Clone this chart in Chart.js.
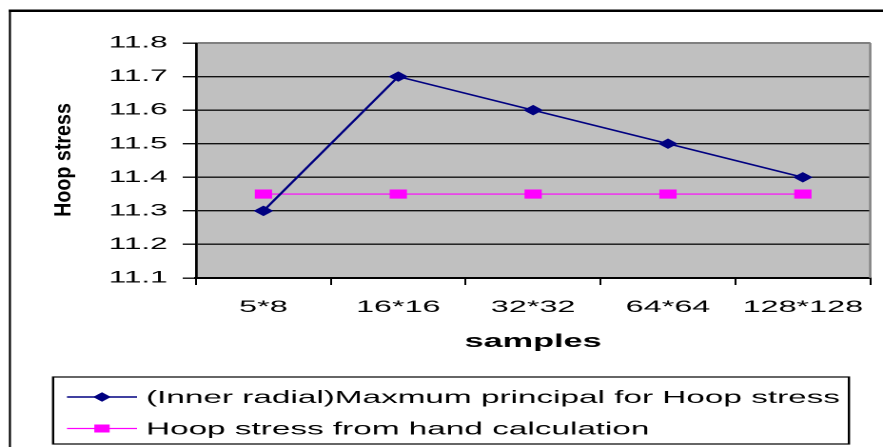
<!DOCTYPE html>
<html>
<head>
<meta charset="utf-8">
<script src="https://cdn.jsdelivr.net/npm/chart.js@4/dist/chart.umd.min.js"></script>
<style>
    html, body { margin: 0; padding: 0; background: #fff; overflow: hidden; }
    /* the original picture is stretched sideways, so the chart is drawn narrow and widened */
    #wrap { width: 464px; height: 447px; transform: scaleX(1.903); transform-origin: 0 0; }
    canvas { display: block; }
</style>
</head>
<body>
<div id="wrap"><canvas id="hoopChart" width="464" height="447"></canvas></div>
<script>
const categories = ['5*8', '16*16', '32*32', '64*64', '128*128'];
const maxPrincipal = [11.3, 11.7, 11.6, 11.5, 11.4];
const handCalc = [11.35, 11.35, 11.35, 11.35, 11.35];
const seriesNames = [
    '(Inner radial)Maxmum principal for Hoop stress',
    'Hoop stress from hand calculation'
];
const yMin = 11.1;
const yMax = 11.8;
const yStep = 0.1;
const xTitle = 'samples';
const yTitle = 'Hoop stress';

const FONT = '"Liberation Sans", Arial, sans-serif';
Chart.defaults.font.family = FONT;
Chart.defaults.color = '#000';

// grey plot area, outer frame
const framePlugin = {
    id: 'frame',
    beforeDraw(chart) {
        const { ctx, chartArea: a } = chart;
        ctx.save();
        ctx.strokeStyle = '#000';
        ctx.lineWidth = 2.5;
        ctx.beginPath();
        ctx.moveTo(4.6, 10.7);
        ctx.lineTo(chart.width + 5, 10.7);
        ctx.stroke();
        ctx.lineWidth = 1.1;
        ctx.beginPath();
        ctx.moveTo(5.2, 9.5);
        ctx.lineTo(5.2, chart.height + 5);
        ctx.stroke();

        ctx.fillStyle = '#c0c0c0';
        ctx.fillRect(a.left, a.top, a.right - a.left, a.bottom - a.top);
        ctx.restore();
    },
    beforeDatasetsDraw(chart) {
        const { ctx, chartArea: a } = chart;
        ctx.save();
        ctx.strokeStyle = '#808080';
        ctx.lineWidth = 2;
        ctx.beginPath();
        ctx.moveTo(a.left + 1, a.top);
        ctx.lineTo(a.right, a.top);
        ctx.stroke();
        ctx.lineWidth = 1.2;
        ctx.beginPath();
        ctx.moveTo(a.right, a.top);
        ctx.lineTo(a.right, a.bottom);
        ctx.stroke();
        ctx.restore();
    }
};

// rotated, condensed y title
const yTitlePlugin = {
    id: 'yTitle',
    afterDraw(chart) {
        const ctx = chart.ctx;
        ctx.save();
        ctx.translate(33.6, 160);
        ctx.rotate(-Math.PI / 2);
        ctx.scale(1, 0.63);
        ctx.font = 'bold 19.7px ' + FONT;
        ctx.fillStyle = '#000';
        ctx.textAlign = 'center';
        ctx.textBaseline = 'middle';
        ctx.fillText(yTitle, 0, 0);
        ctx.restore();
    }
};

// boxed legend below the chart, line + marker + label
const legendPlugin = {
    id: 'boxLegend',
    afterDraw(chart) {
        const ctx = chart.ctx;
        const box = { left: 27.9, top: 377, right: 446.1, bottom: 444 };
        const rows = [397, 428.5];
        ctx.save();
        ctx.strokeStyle = '#000';
        ctx.lineWidth = 1.2;
        ctx.strokeRect(box.left, box.top, box.right - box.left, box.bottom - box.top);

        chart.data.datasets.forEach((ds, i) => {
            const y = rows[i];
            ctx.strokeStyle = ds.borderColor;
            ctx.lineWidth = ds.borderWidth;
            ctx.beginPath();
            ctx.moveTo(35.2, y);
            ctx.lineTo(72, y);
            ctx.stroke();

            ctx.fillStyle = ds.pointBackgroundColor;
            ctx.strokeStyle = ds.pointBorderColor;
            ctx.lineWidth = 1;
            Chart.helpers.drawPoint(ctx, {
                pointStyle: ds.pointStyle,
                radius: ds.pointStyle === 'rect' ? 5 : 4,
                rotation: 0,
                borderWidth: 1
            }, 53.6, y);

            ctx.fillStyle = '#000';
            ctx.font = '17.5px ' + FONT;
            ctx.textAlign = 'left';
            ctx.textBaseline = 'middle';
            ctx.fillText(ds.label, 76.7, y + 1);
        });
        ctx.restore();
    }
};

const ctx = document.getElementById('hoopChart');

new Chart(ctx, {
    type: 'line',
    data: {
        labels: categories,
        datasets: [{
            label: seriesNames[0],
            data: maxPrincipal,
            borderColor: '#000080',
            borderWidth: 1.5,
            pointStyle: 'rectRot',
            pointRadius: 4.5,
            pointBackgroundColor: '#000080',
            pointBorderColor: '#000080',
            pointBorderWidth: 1,
            tension: 0
        }, {
            label: seriesNames[1],
            data: handCalc,
            borderColor: '#ff00ff',
            borderWidth: 1.2,
            pointStyle: 'rect',
            pointRadius: 5.7,
            pointBackgroundColor: '#ff00ff',
            pointBorderColor: '#ff00ff',
            pointBorderWidth: 1,
            tension: 0
        }]
    },
    options: {
        responsive: false,
        devicePixelRatio: 2,
        animation: false,
        layout: {
            padding: { left: 0, top: 43, right: 4.7, bottom: 94 }
        },
        plugins: {
            legend: { display: false },
            tooltip: { enabled: false }
        },
        scales: {
            x: {
                offset: true,
                grid: {
                    offset: true,
                    drawOnChartArea: false,
                    drawTicks: true,
                    tickLength: 7,
                    color: '#000',
                    lineWidth: 1
                },
                border: { color: '#000', width: 2 },
                ticks: {
                    font: { size: 17 },
                    padding: 12,
                    maxRotation: 0,
                    autoSkip: false
                },
                title: {
                    display: true,
                    text: xTitle,
                    font: { size: 18, weight: 'bold' },
                    padding: 0
                },
                afterFit(scale) {
                    scale.height = 75;
                    scale.paddingLeft = 0;
                    scale.paddingRight = 0;
                }
            },
            y: {
                min: yMin,
                max: yMax,
                grid: {
                    color: '#111',
                    lineWidth: 1.4,
                    tickLength: 7
                },
                border: { color: '#000', width: 1.4 },
                ticks: {
                    stepSize: yStep,
                    font: { size: 16.5 },
                    padding: 8,
                    callback: v => v.toFixed(1)
                },
                afterFit(scale) {
                    scale.width = 103;
                    scale.paddingTop = 0;
                    scale.paddingBottom = 0;
                }
            }
        }
    },
    plugins: [framePlugin, yTitlePlugin, legendPlugin]
});
</script>
</body>
</html>
